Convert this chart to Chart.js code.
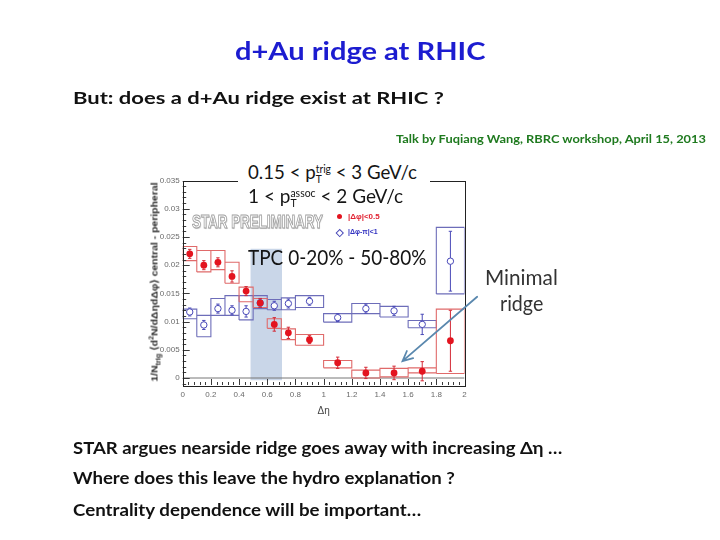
<!DOCTYPE html>
<html><head><meta charset="utf-8">
<script src="https://cdn.jsdelivr.net/npm/chart.js@4"></script>
<style>
html,body{margin:0;padding:0;background:#fff;}
#wrap{position:relative;width:720px;height:540px;overflow:hidden;background:#fff;}
canvas{position:absolute;left:0;top:0;}
.t{position:absolute;white-space:nowrap;font-family:Lato,"Open Sans",sans-serif;line-height:1.2;transform-origin:left center;transform:translateY(-50%);}
.ss{display:inline-block;vertical-align:-0.42em;font-size:0.55em;line-height:1.0;text-align:left;}
.ss span{display:block;}
.mk{position:absolute;}
</style></head><body>
<div id="wrap">
<canvas id="c" width="720" height="540"></canvas>

<div class="t" style="left:235px;top:49.5px;font-size:25px;font-weight:700;color:#1c1cd0;" data-w="250">d+Au ridge at RHIC</div>
<div class="t" style="left:73px;top:98px;font-size:17px;font-weight:700;color:#111;" data-w="371">But: does a d+Au ridge exist at RHIC ?</div>
<div class="t" style="left:396px;top:139px;font-size:12px;font-weight:700;color:#1f7a1f;" data-w="310">Talk by Fuqiang Wang, RBRC workshop, April 15, 2013</div>

<div style="position:absolute;left:238px;top:158px;width:192px;height:50px;background:#fff;"></div>
<div class="t" style="left:248px;top:173px;font-size:19px;color:#151515;" data-w="169">0.15 &lt; p<span class="ss"><span>trig</span><span>T</span></span> &lt; 3 GeV/c</div>
<div class="t" style="left:248px;top:197px;font-size:19px;color:#151515;" data-w="155">1 &lt; p<span class="ss"><span>assoc</span><span>T</span></span> &lt; 2 GeV/c</div>

<div class="t" style="left:192px;top:222px;font-size:19px;font-weight:700;font-family:'Liberation Sans',Arial,sans-serif;color:#fff;-webkit-text-stroke:1px #a0a0a0;text-shadow:1px 1px 1px #c8c8c8;" data-w="131">STAR PRELIMINARY</div>

<div class="mk" style="left:336.5px;top:214px;width:5px;height:5px;border-radius:50%;background:#e3141f;"></div>
<div class="t" style="left:348px;top:216.5px;font-size:7px;font-weight:700;font-family:'Liberation Sans',Arial,sans-serif;color:#e02030;" data-w="32">|Δφ|&lt;0.5</div>
<div class="mk" style="left:337px;top:230px;width:3.5px;height:3.5px;border:1px solid #4848b8;background:#fff;transform:rotate(45deg);"></div>
<div class="t" style="left:348px;top:232px;font-size:7px;font-weight:700;font-family:'Liberation Sans',Arial,sans-serif;color:#3030c0;" data-w="30">|Δφ-π|&lt;1</div>

<div class="t" style="left:248px;top:257px;font-size:21px;color:#141414;" data-w="179">TPC 0-20% - 50-80%</div>

<div class="t" style="left:485px;top:276.5px;font-size:21px;color:#333;" data-w="73">Minimal</div>
<div class="t" style="left:500px;top:303px;font-size:21px;color:#333;" data-w="43">ridge</div>

<div class="t" id="ytitle" style="left:155px;top:282px;font-size:9.5px;font-weight:700;font-family:'Liberation Sans',Arial,sans-serif;color:#2a2a2a;transform-origin:center center;" data-t="translate(-50%,-50%) rotate(-90deg)" data-w="199">1/N<sub style="font-size:0.7em">trig</sub> ⟨d<sup style="font-size:0.7em">2</sup>N/dΔηdΔφ⟩ central - peripheral</div>

<div class="t" style="left:73px;top:448px;font-size:17px;font-weight:700;color:#111;" data-w="489">STAR argues nearside ridge goes away with increasing Δη …</div>
<div class="t" style="left:73px;top:478px;font-size:17px;font-weight:700;color:#111;" data-w="382">Where does this leave the hydro explanation ?</div>
<div class="t" style="left:73px;top:510px;font-size:17px;font-weight:700;color:#111;" data-w="348">Centrality dependence will be important…</div>
</div>

<script>
// ---- data ----
const binLo = [0, 0.1, 0.2, 0.3, 0.4, 0.5, 0.6, 0.7, 0.8, 1.0, 1.2, 1.4, 1.6, 1.8];
const binHi = [0.1, 0.2, 0.3, 0.4, 0.5, 0.6, 0.7, 0.8, 1.0, 1.2, 1.4, 1.6, 1.8, 2.0];
const binCenters = [0.05, 0.15, 0.25, 0.35, 0.45, 0.55, 0.65, 0.75, 0.9, 1.1, 1.3, 1.5, 1.7, 1.9];

// |Δφ|<0.5 (near side)
const nearValues = [0.0220, 0.0200, 0.0205, 0.0180, 0.0154, 0.0133, 0.0095, 0.0080, 0.0068, 0.0027, 0.0009, 0.0009, 0.0012, 0.0066];
const nearStat   = [0.0008, 0.0008, 0.0008, 0.0010, 0.0008, 0.0008, 0.0012, 0.0010, 0.0007, 0.0010, 0.0010, 0.0012, 0.0017, 0.0054];
const nearSysLo  = [0.0208, 0.0188, 0.0192, 0.0168, 0.0135, 0.0125, 0.0088, 0.0068, 0.0058, 0.0018, 0.0000, 0.0002, 0.0009, 0.0008];
const nearSysHi  = [0.0233, 0.0226, 0.0226, 0.0205, 0.0161, 0.0141, 0.0105, 0.0087, 0.0077, 0.0031, 0.0014, 0.0017, 0.0018, 0.0122];

// |Δφ-π|<1 (away side)
const awayValues = [0.0117, 0.0094, 0.0123, 0.0120, 0.0118, 0.0133, 0.0128, 0.0132, 0.0136, 0.0107, 0.0123, 0.0119, 0.0095, 0.0207];
const awayStat   = [0.0007, 0.0008, 0.0008, 0.0008, 0.0010, 0.0007, 0.0008, 0.0008, 0.0007, 0.0007, 0.0008, 0.0008, 0.0018, 0.0053];
const awaySysLo  = [0.0105, 0.0073, 0.0111, 0.0111, 0.0103, 0.0123, 0.0121, 0.0121, 0.0125, 0.0099, 0.0114, 0.0108, 0.0089, 0.0149];
const awaySysHi  = [0.0122, 0.0111, 0.0141, 0.0146, 0.0146, 0.0146, 0.0139, 0.0142, 0.0146, 0.0114, 0.0132, 0.0127, 0.0102, 0.0267];

// shaded Δη window and annotation arrow (data coordinates)
const bandX = [0.48, 0.705];
const bandY = [-0.0004, 0.0229];
const arrowFrom = [2.09, 0.0144];
const arrowTo = [1.56, 0.0030];

// tick labels
const xTickValues = [0, 0.2, 0.4, 0.6, 0.8, 1, 1.2, 1.4, 1.6, 1.8, 2];
const xTickLabels = ['0', '0.2', '0.4', '0.6', '0.8', '1', '1.2', '1.4', '1.6', '1.8', '2'];
const yTickValues = [0, 0.005, 0.01, 0.015, 0.02, 0.025, 0.03, 0.035];
const yTickLabels = ['0', '0.005', '0.01', '0.015', '0.02', '0.025', '0.03', '0.035'];
const xRange = [0, 2];
const yRange = [-0.00124, 0.035];

// ---- build line paths from the data ----
function boxPath(lo, hi) {
  const p = [];
  for (let i = 0; i < binLo.length; i++) {
    p.push({x: binLo[i], y: lo[i]}, {x: binLo[i], y: hi[i]}, {x: binHi[i], y: hi[i]},
           {x: binHi[i], y: lo[i]}, {x: binLo[i], y: lo[i]}, {x: binHi[i], y: null});
  }
  return p;
}
function errPath(c, v, e) {
  const p = [], cw = 0.012;
  for (let i = 0; i < c.length; i++) {
    const lo = v[i] - e[i], hi = v[i] + e[i];
    p.push({x: c[i], y: lo}, {x: c[i], y: hi}, {x: c[i], y: null},
           {x: c[i] - cw, y: hi}, {x: c[i] + cw, y: hi}, {x: c[i], y: null},
           {x: c[i] - cw, y: lo}, {x: c[i] + cw, y: lo}, {x: c[i], y: null});
  }
  return p;
}
const pts = (c, v) => c.map((x, i) => ({x, y: v[i]}));

function minorVals(major, n) {
  const out = [];
  for (let i = 0; i < major.length - 1; i++) {
    const step = (major[i + 1] - major[i]) / n;
    for (let k = 1; k < n; k++) out.push(major[i] + k * step);
  }
  return out;
}

const framePlugin = {
  id: 'frameTicks',
  afterDatasetsDraw(chart) {
    const {ctx, chartArea: a, scales: {x, y}} = chart;
    ctx.save();
    ctx.strokeStyle = '#3a3a3a';
    ctx.lineWidth = 1;
    ctx.beginPath();
    const yStep = yTickValues[1] - yTickValues[0];
    const yMinor = minorVals([yTickValues[0] - yStep].concat(yTickValues), 5).filter(v => v >= yRange[0]);
    yTickValues.forEach(v => { const py = Math.round(y.getPixelForValue(v)) + 0.5; ctx.moveTo(a.left, py); ctx.lineTo(a.left + 7, py); });
    yMinor.forEach(v => { const py = Math.round(y.getPixelForValue(v)) + 0.5; ctx.moveTo(a.left, py); ctx.lineTo(a.left + 3.5, py); });
    const xMinor = minorVals(xTickValues, 5);
    xTickValues.forEach(v => { const px = Math.round(x.getPixelForValue(v)) + 0.5; ctx.moveTo(px, a.bottom); ctx.lineTo(px, a.bottom - 6); });
    xMinor.forEach(v => { const px = Math.round(x.getPixelForValue(v)) + 0.5; ctx.moveTo(px, a.bottom); ctx.lineTo(px, a.bottom - 3); });
    ctx.stroke();
    ctx.strokeStyle = '#222';
    ctx.strokeRect(Math.round(a.left) + 0.5, Math.round(a.top) + 0.5, Math.round(a.right - a.left), Math.round(a.bottom - a.top));
    ctx.restore();
  },
  afterDraw(chart) {
    const {ctx, scales: {x, y}} = chart;
    const x0 = x.getPixelForValue(arrowFrom[0]), y0 = y.getPixelForValue(arrowFrom[1]);
    const x1 = x.getPixelForValue(arrowTo[0]), y1 = y.getPixelForValue(arrowTo[1]);
    const ang = Math.atan2(y1 - y0, x1 - x0), L = 11;
    ctx.save();
    ctx.strokeStyle = '#5a88ae';
    ctx.lineWidth = 1.8;
    ctx.lineCap = 'round';
    ctx.beginPath();
    ctx.moveTo(x0, y0); ctx.lineTo(x1, y1);
    ctx.moveTo(x1 - L * Math.cos(ang - 0.45), y1 - L * Math.sin(ang - 0.45));
    ctx.lineTo(x1, y1);
    ctx.lineTo(x1 - L * Math.cos(ang + 0.45), y1 - L * Math.sin(ang + 0.45));
    ctx.stroke();
    ctx.restore();
  }
};

const tickFont = {family: "'Liberation Sans', Arial, sans-serif", size: 8};

new Chart(document.getElementById('c'), {
  type: 'line',
  data: {
    datasets: [
      {label: 'band', data: [{x: bandX[0], y: bandY[1]}, {x: bandX[1], y: bandY[1]}],
       fill: {value: bandY[0]}, backgroundColor: '#c9d6e8', borderWidth: 0, borderColor: 'rgba(0,0,0,0)', pointRadius: 0, order: 20},
      {label: 'zero', data: [{x: xRange[0], y: 0}, {x: xRange[1], y: 0}],
       borderColor: '#777', borderWidth: 1, pointRadius: 0, fill: false, order: 19},
      {label: 'away sys', data: boxPath(awaySysLo, awaySysHi), borderColor: '#6d6db9', borderWidth: 1.1,
       pointRadius: 0, fill: false, spanGaps: false, order: 15},
      {label: 'near sys', data: boxPath(nearSysLo, nearSysHi), borderColor: '#e06a6a', borderWidth: 1.1,
       pointRadius: 0, fill: false, spanGaps: false, order: 14},
      {label: 'away stat', data: errPath(binCenters, awayValues, awayStat), borderColor: '#4a4ab8', borderWidth: 1,
       pointRadius: 0, fill: false, spanGaps: false, order: 10},
      {label: 'near stat', data: errPath(binCenters, nearValues, nearStat), borderColor: '#d42a36', borderWidth: 1,
       pointRadius: 0, fill: false, spanGaps: false, order: 9},
      {label: '|Δφ-π|<1', data: pts(binCenters, awayValues), showLine: false, pointStyle: 'circle', pointRadius: 3.2,
       pointBackgroundColor: '#fff', pointBorderColor: '#4848b8', pointBorderWidth: 1, order: 2},
      {label: '|Δφ|<0.5', data: pts(binCenters, nearValues), showLine: false, pointStyle: 'circle', pointRadius: 3.4,
       pointBackgroundColor: '#e3141f', pointBorderColor: '#e3141f', pointBorderWidth: 0, order: 1}
    ]
  },
  options: {
    responsive: false,
    animation: false,
    devicePixelRatio: 1,
    events: [],
    layout: {padding: {left: 142.7, right: 255.5, top: 180.5, bottom: 119}},
    plugins: {legend: {display: false}, tooltip: {enabled: false}, title: {display: false}},
    elements: {line: {tension: 0}},
    scales: {
      x: {
        type: 'linear', min: xRange[0], max: xRange[1],
        afterFit(s) { s.height = 36; },
        afterBuildTicks(s) { s.ticks = xTickValues.map(v => ({value: v})); },
        grid: {display: false, drawTicks: false},
        border: {display: false},
        ticks: {padding: 5, color: '#6a6a6a', font: tickFont, maxRotation: 0, autoSkip: false,
                callback: (v, i) => xTickLabels[i]},
        title: {display: true, text: 'Δη', color: '#444', font: {family: "'Liberation Sans', Arial, sans-serif", size: 10},
                padding: {top: 0, bottom: 4}}
      },
      y: {
        type: 'linear', min: yRange[0], max: yRange[1],
        afterFit(s) { s.width = 40; },
        afterBuildTicks(s) { s.ticks = yTickValues.map(v => ({value: v})); },
        grid: {display: false, drawTicks: false},
        border: {display: false},
        ticks: {padding: 3, color: '#6a6a6a', font: tickFont, autoSkip: false,
                callback: (v, i) => yTickLabels[i]}
      }
    }
  },
  plugins: [framePlugin]
});

function fitTexts() {
  document.querySelectorAll('[data-w]').forEach(el => {
    const w = parseFloat(el.dataset.w);
    const s = w / el.offsetWidth;
    el.style.transform = (el.dataset.t || 'translateY(-50%)') + ' scaleX(' + s.toFixed(4) + ')';
  });
}
fitTexts();
if (document.fonts && document.fonts.ready) document.fonts.ready.then(fitTexts);
</script>
</body></html>
